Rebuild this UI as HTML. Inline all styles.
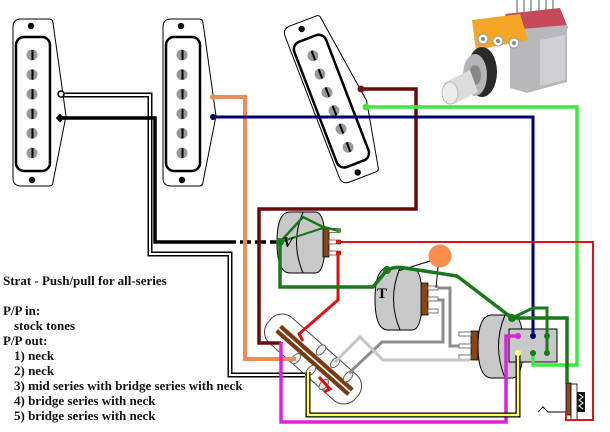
<!DOCTYPE html>
<html><head><meta charset="utf-8"><style>
html,body{margin:0;padding:0;background:#fff;}
svg{display:block;}
text{font-family:"Liberation Serif",serif;font-weight:bold;}
</style></head><body>
<svg width="610" height="432" viewBox="0 0 610 432" xmlns="http://www.w3.org/2000/svg">
<defs>
<g id="pu">
  <path d="M-11,-85 L17,-85 Q21,-85 21,-81 L34,12 L21,78 Q21,82 17,82 L-11,82 Q-19,82 -19,74 L-19,-77 Q-19,-85 -11,-85 Z" fill="#fff" stroke="#000" stroke-width="1"/>
  <rect x="-16" y="-67" width="34" height="134" rx="8" fill="#fff" stroke="#000" stroke-width="2.5"/>
  <g fill="#999">
    <circle cx="0" cy="-49" r="5.5"/><circle cx="0" cy="-29.4" r="5.5"/><circle cx="0" cy="-9.8" r="5.5"/>
    <circle cx="0" cy="9.8" r="5.5"/><circle cx="0" cy="29.4" r="5.5"/><circle cx="0" cy="49" r="5.5"/>
  </g>
  <g stroke="#000" stroke-width="2">
    <line x1="0.5" y1="-54" x2="0.5" y2="-44"/><line x1="0.5" y1="-34.4" x2="0.5" y2="-24.4"/><line x1="0.5" y1="-14.8" x2="0.5" y2="-4.8"/>
    <line x1="0.5" y1="4.8" x2="0.5" y2="14.8"/><line x1="0.5" y1="24.4" x2="0.5" y2="34.4"/><line x1="0.5" y1="44" x2="0.5" y2="54"/>
  </g>
  <circle cx="-1" cy="-78" r="3.2" fill="#000"/>
  <circle cx="0" cy="76" r="3.2" fill="#000"/>
</g>
</defs>

<!-- pickups -->
<use href="#pu" transform="translate(32,104)"/>
<use href="#pu" transform="translate(182,104)"/>
<use href="#pu" transform="translate(330.5,101.5) rotate(-21)"/>

<!-- pot photo -->
<g>
  <g stroke="#aaa" stroke-width="2">
    <line x1="517" y1="0" x2="517" y2="16"/><line x1="524" y1="0" x2="524" y2="16"/><line x1="531" y1="0" x2="531" y2="14"/>
    <line x1="539" y1="0" x2="539" y2="14"/><line x1="546" y1="0" x2="546" y2="14"/><line x1="553" y1="0" x2="553" y2="14"/>
  </g>
  <polygon points="505,14 560,8 568,28 512,36" fill="#c44a5c"/>
  <polygon points="510,30 567,25 567,82 527,93 510,88" fill="#b8b8bc"/>
  <polygon points="540,40 565,35 565,80 540,86" fill="#d0d0d4"/>
  <polygon points="472,20 520,14 528,40 476,50" fill="#f5a626"/>
  <g fill="#fff" stroke="#999"><circle cx="483" cy="39" r="5"/><circle cx="498" cy="41" r="5"/><circle cx="514" cy="43" r="5"/></g>
  <g fill="#888"><circle cx="483" cy="39" r="2"/><circle cx="498" cy="41" r="2"/><circle cx="514" cy="43" r="2"/></g>
  <ellipse cx="482" cy="72" rx="15" ry="25" fill="#2a2a2a"/>
  <ellipse cx="475" cy="75" rx="12" ry="21" fill="#b5b5b5"/>
  <ellipse cx="475" cy="75" rx="6" ry="10" fill="#888"/>
  <polygon points="444,83 470,70 478,92 454,104" fill="#dcdcdc"/>
  <ellipse cx="450" cy="93" rx="8" ry="11" fill="#ececec" stroke="#bbb"/>
</g>

<!-- pots -->
<path d="M290,212 H315 Q325,212 325,242 Q325,273 315,273 H290 Q277,273 277,242 Q277,212 290,212 Z" fill="#c8c8c8" stroke="#000"/>
<path d="M303,212 Q290,242 303,273" fill="none" stroke="#000"/>
<rect x="323" y="228" width="6" height="29" fill="#8b4513" stroke="#000" stroke-width="0.8"/>
<g stroke="#555" stroke-width="0.8" fill="#fff">
  <rect x="329" y="228.5" width="11" height="4"/><rect x="329" y="240" width="11" height="4"/><rect x="329" y="251" width="11" height="4"/>
</g>
<path d="M388,268 H412 Q422,268 422,299 Q422,330 412,330 H388 Q375,330 375,299 Q375,268 388,268 Z" fill="#c8c8c8" stroke="#000"/>
<path d="M400,268 Q387,299 400,330" fill="none" stroke="#000"/>
<rect x="421" y="283" width="7" height="32" fill="#8b4513" stroke="#000" stroke-width="0.8"/>
<g stroke="#555" stroke-width="0.8" fill="#fff">
  <rect x="428" y="286" width="10" height="4"/><rect x="428" y="297" width="10" height="4"/><rect x="428" y="309" width="10" height="4"/>
</g>
<path d="M492,315 H512 Q523,315 523,346 Q523,378 512,378 H492 Q478,378 478,346 Q478,315 492,315 Z" fill="#c8c8c8" stroke="#000"/>
<path d="M505,315 Q492,346 505,378" fill="none" stroke="#000"/>
<rect x="471" y="331" width="7" height="29" fill="#8b4513" stroke="#000" stroke-width="0.8"/>
<g stroke="#555" stroke-width="0.8" fill="#fff">
  <rect x="459" y="332" width="12" height="4"/><rect x="459" y="344" width="12" height="4"/><rect x="459" y="355" width="12" height="4"/>
</g>
<rect x="509" y="329" width="48" height="33" fill="#c8c8c8" stroke="#000"/>

<!-- orange cap -->
<circle cx="440" cy="256" r="11.5" fill="#fa8c4c"/>
<g stroke="#000" stroke-width="1" fill="none">
  <line x1="430" y1="261" x2="398" y2="271"/>
  <line x1="438" y1="267" x2="436" y2="288"/>
</g>

<!-- switch -->
<g transform="translate(313,359) rotate(41.5)">
  <rect x="-58" y="-17" width="116" height="34" rx="15" fill="#fff" stroke="#444" stroke-width="1"/>
  <rect x="-46" y="-5" width="96" height="10" fill="#7a3a12"/>
  <line x1="-46" y1="0" x2="50" y2="0" stroke="#fff" stroke-width="1.6"/>
  <g fill="#eee" stroke="#666" stroke-width="1">
    <ellipse cx="0" cy="-12" rx="3.5" ry="6"/><ellipse cx="19" cy="-12" rx="3.5" ry="6"/><ellipse cx="38" cy="-10" rx="3.5" ry="6"/>
    <ellipse cx="-13" cy="11" rx="3.5" ry="6"/><ellipse cx="6" cy="10" rx="3.5" ry="6"/><ellipse cx="25" cy="12" rx="3.5" ry="6"/>
  </g>
</g>

<!-- jack -->
<rect x="566" y="383" width="5" height="32" fill="#8b4a2b" stroke="#000" stroke-width="0.8"/>
<rect x="571" y="384" width="6" height="36" fill="#fff" stroke="#000" stroke-width="0.8"/>
<rect x="577" y="392" width="8" height="20" fill="#111"/>
<polyline points="579,394 583,397 579,400 583,403 579,406 583,409" fill="none" stroke="#fff" stroke-width="1"/>
<polyline points="538,412 543,407 548,412 566,412" fill="none" stroke="#000" stroke-width="1"/>

<!-- wires -->
<g fill="none" stroke-linejoin="miter">
  <!-- white neck wire -->
  <path d="M61,95 H150 V254 H230 V375 H305" stroke="#000" stroke-width="5"/>
  <path d="M61,95 H150 V254 H230 V375 H305" stroke="#fff" stroke-width="2"/>
  <!-- black neck wire -->
  <path d="M60,118 H155 V242 H236" stroke="#000" stroke-width="3.5"/>
  <path d="M240,242 H280" stroke="#000" stroke-width="3.5" stroke-dasharray="11,4"/>
  <!-- orange -->
  <path d="M213,97 H245 V359 H296" stroke="#ef8c55" stroke-width="4"/>
  <!-- maroon -->
  <path d="M361,89 H416 V209 H259 V343 H281" stroke="#6a0a0a" stroke-width="3.5"/>
  <!-- navy -->
  <path d="M213,117 H533 V336" stroke="#000070" stroke-width="3"/>
  <!-- bright green -->
  <path d="M366,107 H577 V365 H533 V353" stroke="#3ee83e" stroke-width="3.5"/>
  <!-- red -->
  <path d="M340,242 H593 V420 H566 V412" stroke="#d81818" stroke-width="2"/>
  <path d="M338,253 V300 L299,334 L303,341" stroke="#e01010" stroke-width="3"/>
  <path d="M319,377 L330,389 L324,392" stroke="#e01010" stroke-width="3"/>
  <!-- greys -->
  <path d="M438,288 H450 V346 H459" stroke="#8c8c8c" stroke-width="3"/>
  <path d="M438,300 H443 V342 H382 L349,373" stroke="#8c8c8c" stroke-width="3"/>
  <path d="M335,362 L360,337 L383,360 H470" stroke="#c4c4c4" stroke-width="3"/>
  <!-- dark green -->
  <path d="M280,242 V287 H373 L387,270" stroke="#18781a" stroke-width="3.5"/>
  <path d="M280,242 L303,217 L323,227 L340,231" stroke="#18781a" stroke-width="2.5"/>
  <path d="M280,242 L323,228" stroke="#18781a" stroke-width="2"/>
  <path d="M387,270 Q395,266 405,268 L457,276 L512,318" stroke="#18781a" stroke-width="3.5"/>
  <path d="M512,318 L533,308 H547 V353" stroke="#18781a" stroke-width="3"/>
  <path d="M512,318 H567 V383" stroke="#18781a" stroke-width="3.5"/>
  <!-- magenta -->
  <path d="M281,342 V422 H506 V336 H518" stroke="#dd22dd" stroke-width="3.5"/>
  <!-- yellow -->
  <path d="M308,372 V415 H518 V353" stroke="#000" stroke-width="5"/>
  <path d="M308,372 V415 H518 V353" stroke="#ffff55" stroke-width="2.5"/>
</g>

<!-- lug tips -->
<rect x="336" y="228.5" width="5" height="4" fill="#3a9a3a"/>
<rect x="336" y="240" width="5" height="4" fill="#d81818"/>
<rect x="336" y="251" width="5" height="4" fill="#d81818"/>

<!-- terminal dots -->
<circle cx="61" cy="94" r="3" fill="#fff" stroke="#000" stroke-width="1.5"/>
<rect x="57" y="115" width="6" height="6" fill="#000" transform="rotate(45 60 118)"/>
<circle cx="213" cy="97" r="3" fill="#ef8c55"/>
<circle cx="213" cy="117" r="3" fill="#000070"/>
<circle cx="361" cy="89" r="3.5" fill="#7a1010"/>
<circle cx="366" cy="107" r="3.5" fill="#3ee83e"/>
<circle cx="280" cy="242" r="4" fill="#18781a"/>
<circle cx="387" cy="270" r="4" fill="#18781a"/>
<circle cx="512" cy="318" r="4" fill="#18781a"/>
<circle cx="518" cy="336" r="3" fill="#dd22dd"/>
<circle cx="533" cy="336" r="3" fill="#000070"/>
<circle cx="547" cy="336" r="3" fill="#18781a"/>
<circle cx="518" cy="353" r="3" fill="#ffff88"/>
<circle cx="533" cy="353" r="3" fill="#18781a"/>
<circle cx="547" cy="353" r="3" fill="#18781a"/>

<!-- pot labels -->
<text x="283" y="247" font-size="15" font-style="italic">V</text>
<text x="377" y="298" font-size="15">T</text>

<!-- caption -->
<g font-size="13" fill="#111">
  <text x="3" y="285">Strat - Push/pull for all-series</text>
  <text x="3" y="315">P/P in:</text>
  <text x="14" y="330">stock tones</text>
  <text x="3" y="345">P/P out:</text>
  <text x="14" y="360">1) neck</text>
  <text x="14" y="375">2) neck</text>
  <text x="14" y="390">3) mid series with bridge series with neck</text>
  <text x="14" y="405">4) bridge series with neck</text>
  <text x="14" y="420">5) bridge series with neck</text>
</g>
</svg>
</body></html>
